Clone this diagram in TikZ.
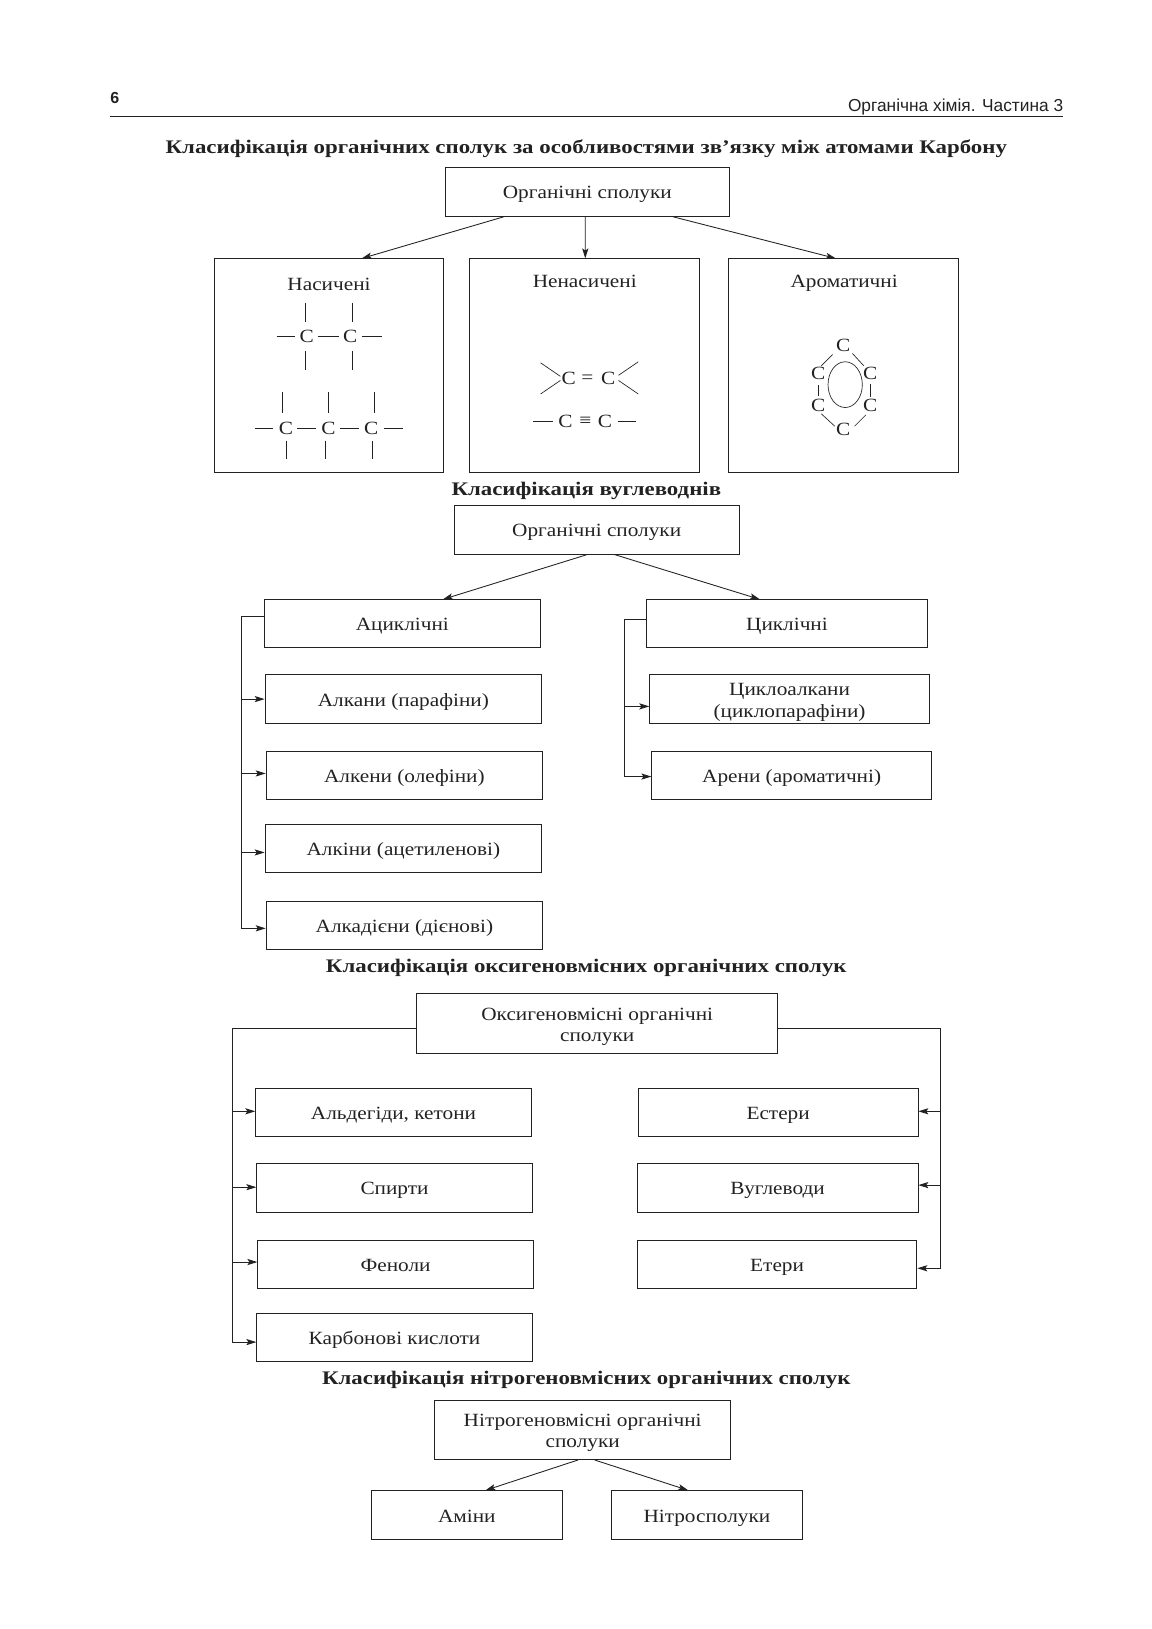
\documentclass[tikz,border=0pt]{standalone}
\usepackage{fontspec}
\usetikzlibrary{arrows.meta}
\setmainfont{Liberation Serif}
\newfontfamily\bodyf[FakeStretch=1.14]{Liberation Serif}
\newfontfamily\titlef[FakeStretch=1.19]{Liberation Serif Bold}
\newfontfamily\headf{Liberation Sans}
\definecolor{ink}{HTML}{222222}
\newcommand{\fs}{\rule{0pt}{14pt}}
\tikzset{
 x=0.7798pt,y=-0.7798pt,
 lin/.style={draw=ink,line width=0.65pt},
 arr/.style={lin,-{Stealth[length=7.5pt,width=4.6pt,inset=1.6pt]}},
 boxm/.style={lin,rectangle,anchor=center,inner sep=0pt,text=ink,align=center,font=\bodyf\fontsize{14}{16}\selectfont},
 boxs/.style={boxm,text height=12.4pt,text depth=1.6pt},
 lab/.style={text=ink,inner sep=0pt,font=\bodyf\fontsize{14}{16}\selectfont},
 atom/.style={text=ink,inner sep=0pt,font=\bodyf\fontsize{14}{16}\selectfont},
 ttl/.style={text=ink,inner sep=0pt,font=\titlef\fontsize{14.4}{16}\selectfont},
 bnd/.style={draw=ink,line width=0.5pt},
}
\newcommand{\bx}[6]{\node[boxs,minimum width=#3*0.7798pt-#2*0.7798pt,minimum height=#5*0.7798pt-#4*0.7798pt] (#1) at ({(#2+#3)/2},{(#4+#5)/2}) {#6};}
\newcommand{\bxm}[6]{\node[boxm,minimum width=#3*0.7798pt-#2*0.7798pt,minimum height=#5*0.7798pt-#4*0.7798pt] (#1) at ({(#2+#3)/2},{(#4+#5)/2}) {#6};}
\begin{document}
\begin{tikzpicture}
\useasboundingbox (0,0) rectangle (1108,1567);
\fill[white] (0,0) rectangle (1108,1567);
% header
\node[text=ink,inner sep=0pt,font=\headf\bfseries\fontsize{12}{14}\selectfont] (pg) at (110.5,94) {6};
\node[text=ink,inner sep=0pt,anchor=east,font=\headf\fontsize{13}{15}\selectfont] (hd) at (1023,103) {Органічна хімія. Частина 3};
\coordinate (ruleL) at (106,112);
\coordinate (ruleR) at (1023,112);
\draw[draw=ink,line width=0.8pt] (ruleL) -- (ruleR);
% section 1
\node[ttl] (t1) at (564,143) {Класифікація органічних сполук за особливостями зв’язку між атомами Карбону};
\bx{a0}{428}{702}{161}{208}{Органічні сполуки}
\bx{a1}{206}{427}{249}{454}{}
\bx{a2}{452}{673}{249}{454}{}
\bx{a3}{701}{922}{249}{454}{}
\node[lab] (a1t) at (316.5,274) {Насичені};
\node[lab] (a2t) at (562.5,271) {Ненасичені};
\node[lab] (a3t) at (812,272.5) {Ароматичні};
\draw[arr] ([shift={(-80,0)}]a0.south) -- ([shift={(31.5,0)}]a1.north);
\draw[arr] ([shift={(-2,0)}]a0.south) -- ([shift={(0.5,0)}]a2.north);
\draw[arr] ([shift={(82,0)}]a0.south) -- ([shift={(-7.5,0)}]a3.north);
% saturated 2C
\node[atom] (c1) at (295,324) {C};
\node[atom] (c2) at (337,324) {C};
\draw[bnd] ([shift={(-29,0)}]c1.center) -- ([shift={(-11,0)}]c1.center);
\draw[bnd] ([shift={(11,0)}]c1.center) -- ([shift={(31,0)}]c1.center);
\draw[bnd] ([shift={(11,0)}]c2.center) -- ([shift={(30,0)}]c2.center);
\draw[bnd] ([shift={(-1,-33)}]c1.center) -- ([shift={(-1,-14)}]c1.center);
\draw[bnd] ([shift={(-1,14)}]c1.center) -- ([shift={(-1,32)}]c1.center);
\draw[bnd] ([shift={(2,-33)}]c2.center) -- ([shift={(2,-14)}]c2.center);
\draw[bnd] ([shift={(2,14)}]c2.center) -- ([shift={(2,32)}]c2.center);
% saturated 3C
\node[atom] (c3) at (275,412) {C};
\node[atom] (c4) at (316,412) {C};
\node[atom] (c5) at (357,412) {C};
\draw[bnd] ([shift={(-30,0)}]c3.center) -- ([shift={(-12,0)}]c3.center);
\draw[bnd] ([shift={(11,0)}]c3.center) -- ([shift={(29,0)}]c3.center);
\draw[bnd] ([shift={(11,0)}]c4.center) -- ([shift={(29,0)}]c4.center);
\draw[bnd] ([shift={(12,0)}]c5.center) -- ([shift={(31,0)}]c5.center);
\draw[bnd] ([shift={(-3,-35)}]c3.center) -- ([shift={(-3,-15)}]c3.center);
\draw[bnd] ([shift={(0,-35)}]c4.center) -- ([shift={(0,-15)}]c4.center);
\draw[bnd] ([shift={(3,-35)}]c5.center) -- ([shift={(3,-15)}]c5.center);
\draw[bnd] ([shift={(0,12)}]c3.center) -- ([shift={(0,30)}]c3.center);
\draw[bnd] ([shift={(-3,12)}]c4.center) -- ([shift={(-3,30)}]c4.center);
\draw[bnd] ([shift={(1,12)}]c5.center) -- ([shift={(1,30)}]c5.center);
% double
\node[atom] (d1) at (547,364) {C};
\node[atom] (d2) at (585,364) {C};
\node[atom] (de) at (565,365) {=};
\draw[bnd] ([shift={(-27,-15)}]d1.center) -- ([shift={(-8,-2)}]d1.center);
\draw[bnd] ([shift={(-27,15)}]d1.center) -- ([shift={(-8,2)}]d1.center);
\draw[bnd] ([shift={(29,-16)}]d2.center) -- ([shift={(10,-3)}]d2.center);
\draw[bnd] ([shift={(29,15)}]d2.center) -- ([shift={(10,2)}]d2.center);
% triple
\node[atom] (e1) at (544,405) {C};
\node[atom] (e2) at (582,405) {C};
\node[atom] (ee) at (563,406) {≡};
\draw[bnd] ([shift={(-31,0)}]e1.center) -- ([shift={(-12,0)}]e1.center);
\draw[bnd] ([shift={(12,0)}]e2.center) -- ([shift={(30,0)}]e2.center);
% ring
\node[atom] (r1) at (811,332) {C};
\node[atom] (r2) at (837,359) {C};
\node[atom] (r3) at (837,390) {C};
\node[atom] (r4) at (811,413) {C};
\node[atom] (r5) at (787,390) {C};
\node[atom] (r6) at (787,359) {C};
\draw[bnd] ([shift={(9,8)}]r1.center) -- ([shift={(20,20)}]r1.center);
\draw[bnd] ([shift={(0,10)}]r2.center) -- ([shift={(0,23)}]r2.center);
\draw[bnd] ([shift={(-4,9)}]r3.center) -- ([shift={(-15,20)}]r3.center);
\draw[bnd] ([shift={(-8,-3)}]r4.center) -- ([shift={(-21,-15)}]r4.center);
\draw[bnd] ([shift={(0,-9)}]r5.center) -- ([shift={(0,-20)}]r5.center);
\draw[bnd] ([shift={(3,-7)}]r6.center) -- ([shift={(14,-18)}]r6.center);
\coordinate (rc) at (813,370);
\draw[bnd] (rc) ellipse [x radius=16.5,y radius=22];
% section 2
\node[ttl] (t2) at (564,472) {Класифікація вуглеводнів};
\bx{b0}{437}{711}{486}{533}{Органічні сполуки}
\bx{b1}{254}{520}{577}{623}{Ациклічні}
\bx{b2}{622}{892}{577}{623}{Циклічні}
\draw[arr] ([shift={(-9,0)}]b0.south) -- ([shift={(39,0)}]b1.north);
\draw[arr] ([shift={(17,0)}]b0.south) -- ([shift={(-26,0)}]b2.north);
\bx{b3}{255}{521}{649}{696}{Алкани (парафіни)}
\bx{b4}{256}{522}{723}{769}{Алкени (олефіни)}
\bx{b5}{255}{521}{793}{839}{Алкіни (ацетиленові)}
\bx{b6}{256}{522}{867}{913}{Алкадієни (дієнові)}
\coordinate (busA) at (232,593);
\draw[lin] (b1.west|-busA) -- (busA) -- (232,893);
\draw[arr] (busA|-b3.west) -- (b3.west);
\draw[arr] ([shift={(-24,-2)}]b4.west) -- ([shift={(0,-2)}]b4.west);
\draw[arr] ([shift={(-23,4)}]b5.west) -- ([shift={(0,4)}]b5.west);
\draw[arr] ([shift={(-24,3)}]b6.west) -- ([shift={(0,3)}]b6.west);
\bxm{b7}{625}{894}{649}{696}{\fs Циклоалкани\\(циклопарафіни)}
\bx{b8}{627}{896}{723}{769}{Арени (ароматичні)}
\coordinate (busB) at (601,596);
\draw[lin] (b2.west|-busB) -- (busB) -- (601,747);
\draw[arr] ([shift={(-24,7)}]b7.west) -- ([shift={(0,7)}]b7.west);
\draw[arr] ([shift={(-26,1)}]b8.west) -- ([shift={(0,1)}]b8.west);
% section 3
\node[ttl] (t3) at (564,931) {Класифікація оксигеновмісних органічних сполук};
\bxm{o0}{401}{748}{956}{1013}{\fs Оксигеновмісні органічні\\сполуки}
\bx{o1}{246}{511}{1047}{1093}{Альдегіди, кетони}
\bx{o2}{247}{512}{1119}{1166}{Спирти}
\bx{o3}{248}{513}{1193}{1239}{Феноли}
\bx{o4}{247}{512}{1263}{1310}{Карбонові кислоти}
\bx{o5}{614}{883}{1047}{1093}{Естери}
\bx{o6}{613}{883}{1119}{1166}{Вуглеводи}
\bx{o7}{613}{882}{1193}{1239}{Етери}
\coordinate (busL) at (224,989);
\coordinate (busR) at (905,989);
\draw[lin] (o0.west|-busL) -- (busL) -- (224,1291);
\draw[lin] (o0.east|-busR) -- (busR) -- (905,1220);
\draw[arr] ([shift={(-22,-1)}]o1.west) -- ([shift={(0,-1)}]o1.west);
\draw[arr] ([shift={(-23,-0.5)}]o2.west) -- ([shift={(0,-0.5)}]o2.west);
\draw[arr] ([shift={(-24,-2)}]o3.west) -- ([shift={(0,-2)}]o3.west);
\draw[arr] ([shift={(-23,4.5)}]o4.west) -- ([shift={(0,4.5)}]o4.west);
\draw[arr] ([shift={(22,-1)}]o5.east) -- ([shift={(0,-1)}]o5.east);
\draw[arr] ([shift={(22,-2.5)}]o6.east) -- ([shift={(0,-2.5)}]o6.east);
\draw[arr] ([shift={(23,4)}]o7.east) -- ([shift={(0,4)}]o7.east);
% section 4
\node[ttl] (t4) at (564,1327) {Класифікація нітрогеновмісних органічних сполук};
\bxm{n0}{418}{703}{1347}{1404}{\fs Нітрогеновмісні органічні\\сполуки}
\bx{n1}{357}{541}{1434}{1481}{Аміни}
\bx{n2}{588}{772}{1434}{1481}{Нітросполуки}
\draw[arr] ([shift={(-4.5,0)}]n0.south) -- ([shift={(18,0)}]n1.north);
\draw[arr] ([shift={(11.5,0)}]n0.south) -- ([shift={(-18,0)}]n2.north);
\end{tikzpicture}
\end{document}
